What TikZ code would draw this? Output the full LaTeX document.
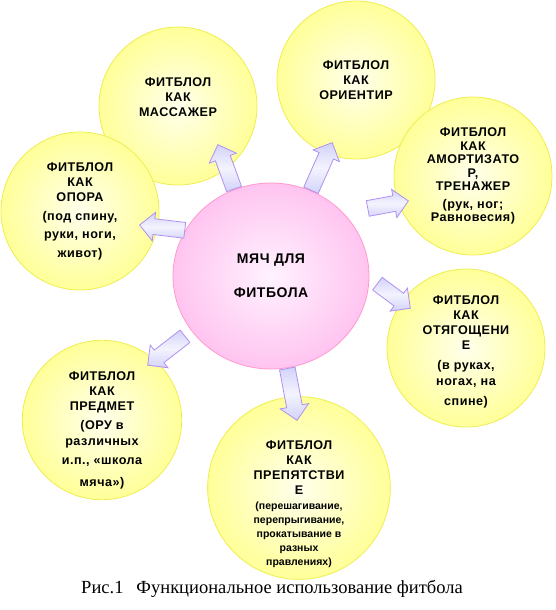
\documentclass[tikz,border=0pt]{standalone}
\usepackage{fontspec}
\setmainfont{Liberation Sans}
\newfontfamily\sunfont[LetterSpace=4]{Liberation Sans}
\newfontfamily\capfont{Liberation Serif}
\usepackage{tikz}
\usetikzlibrary{positioning,shapes.geometric,shapes.arrows,calc}
\definecolor{ballrim}{HTML}{FF99CC}
\definecolor{ballin}{HTML}{FFF2FF}
\definecolor{ballout}{HTML}{FFC4F0}
\definecolor{sunrim}{HTML}{EEEE50}
\definecolor{sunin}{HTML}{FFFFEC}
\definecolor{sunout}{HTML}{FFFF99}
\definecolor{lav}{HTML}{D2D2FA}
\definecolor{lavrim}{HTML}{B090F0}
\tikzset{
  ball/.style={ellipse, draw=ballrim, line width=0.8pt, inner color=ballin, outer color=ballout,
               minimum width=196pt, minimum height=186pt, align=center,
               font=\sunfont\bfseries\fontsize{14}{17}\selectfont},
  sun/.style={circle, draw=sunrim, line width=0.8pt, inner color=sunin, outer color=sunout,
              minimum size=158pt, inner sep=0pt, align=center,
              font=\sunfont\bfseries\fontsize{12.6}{15}\selectfont},
  arrowbody/.style={single arrow, draw=lavrim, line width=0.8pt, top color=lav, bottom color=lav,
                    middle color=lav!25, inner sep=0pt, inner ysep=7.5pt,
                    single arrow head extend=6.5pt, single arrow tip angle=90,
                    single arrow head indent=0pt},
  flow/.style={to path={let \p1=(\tikztostart), \p2=(\tikztotarget),
                 \n1={veclen(\x2-\x1,\y2-\y1)}, \n2={atan2(\y2-\y1,\x2-\x1)} in
                 node[arrowbody, minimum height=\n1, rotate=\n2, anchor=tail] at (\p1) {}}},
}
\begin{document}
\begin{tikzpicture}[x=1pt, y=-1pt]
    \useasboundingbox (0,0) rectangle (556,610);

    \node[sun] (mass)   at (178,106) {ФИТБЛОЛ\\КАК\\МАССАЖЕР\rule[-17pt]{0pt}{0pt}};
    \node[sun] (orient) at (356,80)  {ФИТБЛОЛ\\КАК\\ОРИЕНТИР};
    \node[sun] (opora)  at (80,211)  {ФИТБЛОЛ\\КАК\\ОПОРА\\[4pt](под спину,\\[3pt]руки, ноги,\\[4pt]живот)};
    \node[sun] (amort)  at (473,176) {ФИТБЛОЛ\\[-1pt]КАК\\[-2pt]АМОРТИЗАТО\\[-1pt]Р,\\[-2pt]ТРЕНАЖЕР\\[3pt](рук, ног;\\[-2pt]Равновесия)};
    \node[sun] (otyag)  at (466,348) {\rule{0pt}{17pt}ФИТБЛОЛ\\КАК\\ОТЯГОЩЕНИ\\Е\\[5pt](в руках,\\[1pt]ногах, на\\[5pt]спине)};
    \node[sun] (predm)  at (102,420) {\rule{0pt}{29pt}ФИТБЛОЛ\\КАК\\ПРЕДМЕТ\\[4pt](ОРУ в\\[1pt]различных\\[4pt]и.п., «школа\\[7pt]мяча»)};
    \node[sun] (prepy)  at (299,488) {\rule{0pt}{41pt}ФИТБЛОЛ\\КАК\\ПРЕПЯТСТВИ\\Е\\
      {\fontspec{Liberation Sans}\bfseries\fontsize{10.5}{14}\selectfont(перешагивание,}\\[-1pt]
      {\fontspec{Liberation Sans}\bfseries\fontsize{10.5}{14}\selectfont перепрыгивание,}\\[-1pt]
      {\fontspec{Liberation Sans}\bfseries\fontsize{10.5}{14}\selectfont прокатывание в}\\[-1pt]
      {\fontspec{Liberation Sans}\bfseries\fontsize{10.5}{14}\selectfont разных}\\[-1pt]
      {\fontspec{Liberation Sans}\bfseries\fontsize{10.5}{14}\selectfont правлениях)}};

    \node[ball] (ball) at (271,276) {МЯЧ ДЛЯ\\[17pt]ФИТБОЛА};

    % arrow ends
    \coordinate (tomass)   at (218,145);
    \coordinate (toorient) at (332,143);
    \coordinate (toamort)  at (408,201);
    \coordinate (tootyag)  at (410,308);
    \coordinate (toopora)  at (140,225);
    \coordinate (topredm)  at (148,365);
    \coordinate (toprepy)  at (297,420);
    \coordinate (fromamort) at ([shift={(35:21pt)}]ball.35);
    \coordinate (fromotyag) at ([shift={(-4:8pt)}]ball.-4);
    \coordinate (frompredm) at ([shift={(215:8pt)}]ball.215);

    \path (ball.113) to[flow] (tomass);
    \path (ball.65)  to[flow] (toorient);
    \path (fromamort) to[flow] (toamort);
    \path (fromotyag) to[flow] (tootyag);
    \path (ball.152) to[flow] (toopora);
    \path (frompredm) to[flow] (topredm);
    \path (ball.-80) to[flow] (toprepy);

    \node[anchor=base, font=\capfont\fontsize{18.5}{22}\selectfont] (caption) at (272,593)
      {Рис.1\hspace{13pt}Функциональное использование фитбола};
  \end{tikzpicture}
\end{document}
